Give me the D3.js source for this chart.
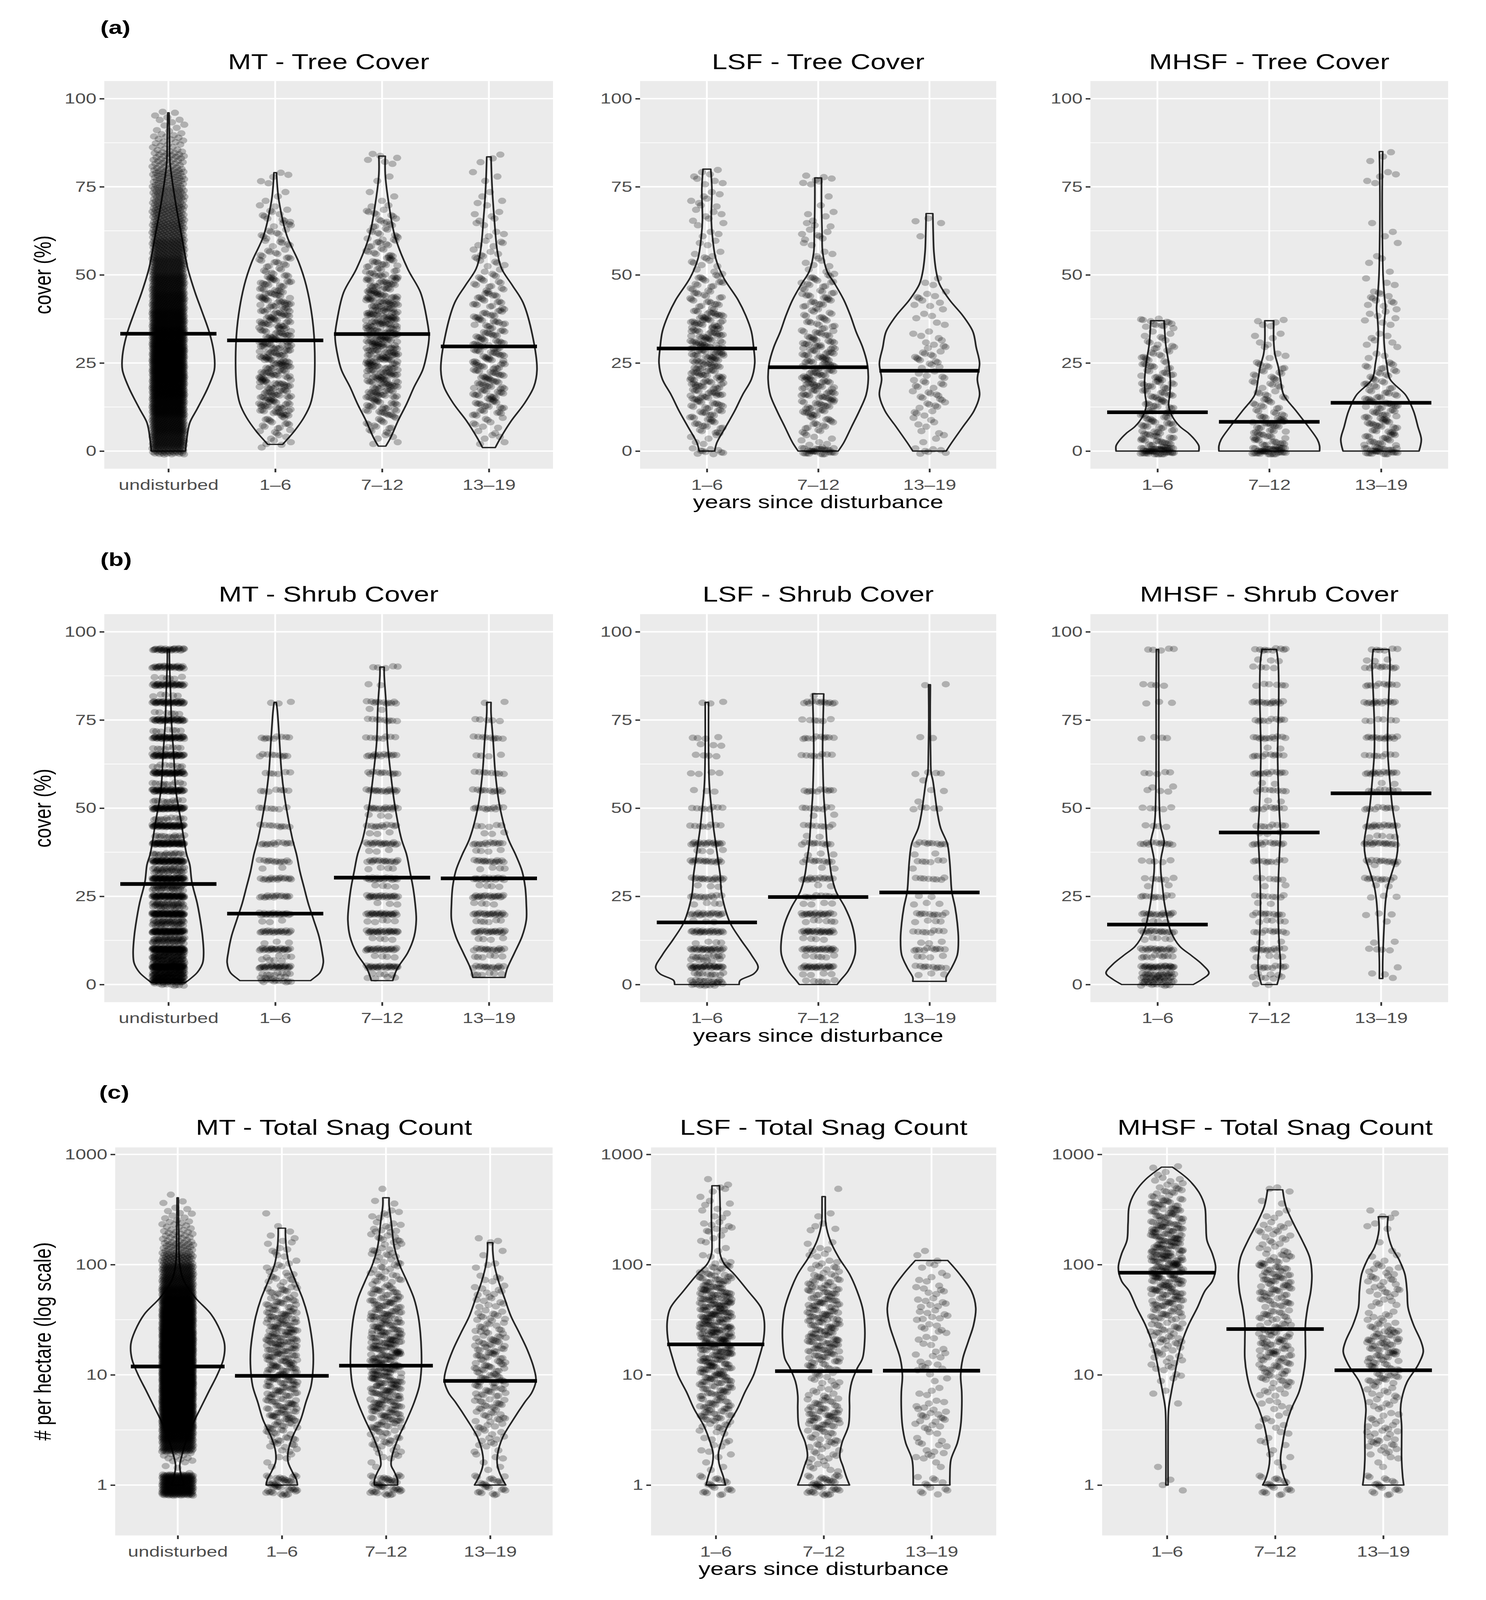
<!DOCTYPE html>
<html><head><meta charset="utf-8">
<script src="https://cdn.jsdelivr.net/npm/d3@7"></script>
<style>html,body{margin:0;padding:0;background:#fff;overflow:hidden}svg{display:block;width:100vw;height:100vh}</style>
</head><body><svg id="c" viewBox="0 0 3805 5303" preserveAspectRatio="none"></svg>
<script>
// ---------------- DATA ----------------
const catsMT = ["undisturbed","1–6","7–12","13–19"];
const catsDist = ["1–6","7–12","13–19"];
const ecosystems = ["MT","LSF","MHSF"];
const variables = ["Tree Cover","Shrub Cover","Total Snag Count"];
const rowLetters = ["(a)","(b)","(c)"];
const yTitles = ["cover (%)","cover (%)","# per hectare (log scale)"];
const xTitle = "years since disturbance";
const coverTicks = [0,25,50,75,100];
const coverMinor = [12.5,37.5,62.5,87.5];
const snagTicks = [1,10,100,1000];
const snagMinor = [3.1623,31.623,316.23];

const treeMeansMT = [33.3,31.4,33.2,29.7];
const treeMeansLSF = [29.1,23.8,22.8];
const treeMeansMHSF = [11.0,8.3,13.7];
const shrubMeansMT = [28.5,20.1,30.3,30.1];
const shrubMeansLSF = [17.6,24.8,26.1];
const shrubMeansMHSF = [17.0,43.1,54.2];
const snagMeansMT = [11.9,9.8,12.1,8.8];
const snagMeansLSF = [18.9,10.8,10.9];
const snagMeansMHSF = [84.4,26,11];

const violinTreeMT = [
 [[96,0.006],[90,0.01],[82,0.015],[78,0.03],[70,0.07],[60,0.13],[52,0.18],[45,0.25],[40,0.31],[33,0.39],[27,0.43],[23,0.43],[18,0.37],[12,0.27],[8,0.2],[3,0.17],[0,0.16]],
 [[79,0.012],[75,0.02],[70.8,0.036],[61,0.11],[53.6,0.22],[47,0.29],[37,0.35],[28,0.37],[18,0.36],[13.4,0.33],[9.6,0.27],[5.7,0.18],[2.9,0.1],[1.9,0.07]],
 [[83.7,0.03],[78.5,0.03],[70.8,0.06],[61,0.12],[51.7,0.24],[45,0.36],[37.3,0.42],[32.5,0.44],[27.8,0.42],[23,0.38],[18.2,0.3],[13.4,0.23],[8.6,0.15],[3.8,0.08],[1.4,0.035]],
 [[83.5,0.02],[75,0.03],[66,0.05],[56.5,0.08],[51.7,0.12],[47,0.22],[42.1,0.32],[32.5,0.41],[23,0.45],[18.2,0.42],[13.4,0.33],[8.6,0.21],[3.8,0.11],[1,0.06]]
];
const violinTreeLSF = [
 [[80,0.035],[74.4,0.045],[65.4,0.04],[60.9,0.05],[54.6,0.08],[49.2,0.15],[42.9,0.28],[38.4,0.35],[33.9,0.4],[29.4,0.42],[24.9,0.43],[20.4,0.4],[15.9,0.32],[11.4,0.25],[6.9,0.17],[2.4,0.09],[0,0.07]],
 [[77.5,0.03],[70,0.03],[62,0.035],[56.4,0.04],[51,0.08],[47.4,0.15],[42.9,0.23],[38.4,0.29],[33.9,0.34],[29.4,0.4],[24.9,0.44],[20.4,0.45],[15.9,0.43],[11.4,0.37],[6.9,0.3],[2.4,0.23],[0,0.18]],
 [[67.4,0.03],[60,0.035],[56.4,0.04],[51,0.06],[47.4,0.09],[42.9,0.18],[38.4,0.3],[33.9,0.39],[29.4,0.42],[24.9,0.45],[20.4,0.43],[15.9,0.45],[11.4,0.4],[6.9,0.3],[2.4,0.2],[0,0.15]]
];
const violinTreeMHSF = [
 [[37,0.06],[34,0.065],[30,0.075],[25,0.1],[20,0.115],[16,0.11],[13,0.1],[10,0.13],[7,0.2],[5,0.28],[3,0.34],[1.5,0.37],[0,0.37]],
 [[37,0.04],[31,0.04],[27.6,0.05],[24,0.08],[20.4,0.1],[15.9,0.13],[11.4,0.24],[6.9,0.35],[3.3,0.43],[1.5,0.45],[0,0.45]],
 [[85,0.015],[80,0.012],[70,0.01],[60,0.012],[50,0.018],[44,0.03],[40.5,0.04],[37,0.03],[33,0.025],[28,0.035],[24.9,0.05],[20.4,0.08],[15.9,0.22],[11.4,0.29],[6.9,0.33],[3.3,0.36],[0,0.34]]
];
const violinShrubMT = [
 [[95,0.01],[92,0.01],[83,0.02],[74,0.03],[65,0.05],[55,0.07],[46,0.12],[37,0.17],[34,0.2],[29,0.22],[23,0.27],[18,0.3],[13.6,0.32],[9,0.33],[6,0.32],[3.4,0.27],[1.5,0.2],[0.6,0.16]],
 [[80,0.01],[77.6,0.02],[69,0.04],[60,0.06],[50.7,0.1],[41.4,0.16],[36.8,0.2],[32.2,0.23],[27.5,0.27],[22.9,0.31],[18.3,0.36],[13.6,0.41],[9,0.44],[6.2,0.45],[3.4,0.42],[1.8,0.36],[1.1,0.33]],
 [[90,0.02],[87.8,0.02],[78.5,0.04],[69,0.05],[60,0.08],[50.7,0.12],[41.4,0.18],[36.8,0.23],[32.2,0.26],[27.5,0.29],[22.9,0.31],[18.3,0.32],[13.6,0.3],[9,0.24],[4.4,0.14],[1.1,0.1]],
 [[80,0.02],[77,0.02],[69,0.04],[60,0.06],[50.7,0.1],[41.4,0.18],[36.8,0.25],[32.2,0.31],[27.5,0.34],[22.9,0.35],[18.3,0.35],[13.6,0.31],[9,0.24],[4.4,0.17],[2,0.15]]
];
const violinShrubLSF = [
 [[80,0.015],[67,0.015],[58,0.02],[53.4,0.03],[48.9,0.045],[44.4,0.06],[39.9,0.08],[35.4,0.1],[30.9,0.12],[26.4,0.13],[21.9,0.16],[17.4,0.21],[12.9,0.3],[8.4,0.4],[4.8,0.46],[3,0.42],[1.2,0.3],[0,0.29]],
 [[82.4,0.05],[75.9,0.045],[66.9,0.04],[57.9,0.045],[53.4,0.05],[48.9,0.06],[44.4,0.07],[39.9,0.08],[35.4,0.1],[30.9,0.12],[26.4,0.16],[21.9,0.24],[17.4,0.3],[12.9,0.33],[8.4,0.33],[3.9,0.27],[1.2,0.2],[0,0.17]],
 [[85,0.008],[75,0.006],[65,0.01],[60,0.015],[57.9,0.03],[53.4,0.05],[48.9,0.07],[44.4,0.1],[39.9,0.16],[35.4,0.18],[30.9,0.19],[26.4,0.2],[21.9,0.23],[17.4,0.25],[12.9,0.26],[8.4,0.25],[4.8,0.2],[2,0.15],[0.9,0.15]]
];
const violinShrubMHSF = [
 [[95,0.01],[80,0.012],[60,0.012],[48,0.02],[44.7,0.03],[42.1,0.05],[40.4,0.06],[38.7,0.05],[35.3,0.03],[32,0.03],[27.7,0.045],[23.5,0.06],[19.3,0.085],[15,0.12],[10.8,0.2],[8.3,0.3],[5.7,0.4],[3.2,0.46],[1.5,0.4],[0,0.32]],
 [[95,0.065],[91.1,0.08],[82.7,0.085],[74.2,0.08],[65.8,0.075],[57.3,0.08],[48.9,0.09],[43,0.1],[36.2,0.09],[27.7,0.08],[19.3,0.08],[10.8,0.09],[6.6,0.1],[3.2,0.095],[0,0.07]],
 [[95,0.07],[91.1,0.08],[82.7,0.07],[74.2,0.06],[65.8,0.06],[57.3,0.08],[50.6,0.1],[44.7,0.13],[40.4,0.15],[36.2,0.14],[32,0.1],[27.7,0.06],[23.5,0.04],[15,0.025],[6.6,0.015],[1.7,0.015]]
];
const violinSnagMT = [
 [[404,0.006],[200,0.01],[100,0.02],[71,0.06],[50,0.17],[35.5,0.32],[25,0.41],[19,0.45],[14,0.44],[10,0.38],[7.1,0.3],[5,0.22],[3.5,0.14],[2.5,0.08],[1.86,0.04],[1.5,0.02],[1.26,0.03],[1,0.06]],
 [[214,0.035],[182,0.035],[135,0.045],[100,0.07],[71,0.13],[49,0.2],[34,0.25],[24,0.28],[16.6,0.3],[11.5,0.3],[7.9,0.28],[5.6,0.23],[3.9,0.18],[2.7,0.1],[2.0,0.06],[1.62,0.06],[1.32,0.1],[1.12,0.14],[1,0.15]],
 [[404,0.03],[347,0.03],[245,0.05],[145,0.08],[100,0.13],[71,0.2],[49,0.27],[34,0.31],[24,0.33],[16.6,0.34],[11.5,0.34],[7.9,0.32],[5.6,0.27],[3.9,0.2],[2.7,0.12],[1.86,0.06],[1.51,0.05],[1.32,0.08],[1.12,0.11],[1,0.11]],
 [[158,0.025],[135,0.025],[100,0.04],[71,0.08],[49,0.14],[34,0.2],[24,0.28],[16.6,0.36],[11.5,0.42],[8.9,0.44],[6.9,0.4],[5.6,0.33],[3.9,0.22],[2.7,0.12],[1.86,0.07],[1.51,0.07],[1.23,0.1],[1,0.15]]
];
const violinSnagLSF = [
 [[519,0.035],[336,0.04],[236,0.04],[166,0.035],[125,0.04],[101,0.08],[82,0.17],[57.5,0.3],[40.5,0.42],[30.5,0.45],[20,0.44],[14.1,0.4],[9.9,0.35],[6.95,0.27],[4.89,0.2],[3.44,0.11],[2.42,0.05],[1.95,0.025],[1.58,0.03],[1.19,0.07],[1,0.09]],
 [[414,0.015],[336,0.015],[236,0.02],[166,0.06],[116,0.14],[82,0.24],[57.5,0.31],[40.5,0.36],[28.4,0.38],[20,0.38],[14.1,0.36],[11.4,0.31],[8.6,0.26],[6.5,0.24],[4.89,0.24],[3.44,0.23],[2.42,0.17],[1.82,0.15],[1.47,0.18],[1.19,0.21],[1,0.24]],
 [[109,0.15],[82,0.26],[57.5,0.37],[40.5,0.41],[28.4,0.39],[20,0.34],[14.1,0.29],[9.9,0.27],[6.95,0.28],[4.89,0.28],[3.44,0.27],[2.42,0.24],[1.7,0.18],[1.19,0.17],[1,0.17]]
];
const violinSnagMHSF = [
 [[766,0.05],[589,0.2],[445,0.3],[336,0.35],[236,0.36],[166,0.37],[125,0.42],[94,0.45],[71,0.42],[57.5,0.35],[40.5,0.28],[28.4,0.2],[20,0.14],[14.1,0.1],[9.9,0.07],[6.95,0.04],[4.89,0.015],[2.42,0.01],[1,0.01]],
 [[477,0.07],[336,0.1],[236,0.17],[166,0.25],[116,0.32],[82,0.34],[57.5,0.33],[40.5,0.3],[28.4,0.28],[20,0.28],[14.1,0.28],[9.9,0.26],[6.95,0.22],[4.89,0.15],[3.44,0.1],[2.42,0.07],[1.7,0.05],[1.19,0.08],[1,0.115]],
 [[272,0.045],[205,0.04],[144,0.08],[109,0.15],[82,0.2],[57.5,0.22],[40.5,0.23],[28.4,0.28],[20,0.35],[16.2,0.37],[12.2,0.32],[8.6,0.22],[6.0,0.17],[4.89,0.16],[3.44,0.17],[2.42,0.17],[1.7,0.17],[1.19,0.18],[1,0.19]]
];

const treeBinEdges = [-1,1,5,10,15,20,25,30,35,40,45,50,55,60,65,70,75,80,85,90,95,97];
const treeCountsMT = [
 [40,110,160,200,230,250,250,230,200,170,150,120,100,80,70,60,50,35,20,10,3],
 [0,8,18,40,42,44,44,42,40,36,30,18,13,13,12,3,5,0,0,0,0],
 [0,5,16,32,46,52,55,57,57,50,40,26,18,16,13,3,2,6,0,0,0],
 [0,5,10,26,32,34,32,29,26,21,16,10,10,5,6,4,3,3,0,0,0]
];
const treeCountsLSF = [
 [10,5,22,28,38,40,45,42,38,20,18,10,6,5,8,6,8,0,0,0,0],
 [30,8,18,32,38,38,35,28,18,22,18,8,5,10,5,1,7,0,0,0,0],
 [7,3,7,12,14,10,14,7,5,9,4,0,0,2,2,0,0,0,0,0,0]
];
const treeCountsMHSF = [
 [48,28,28,24,26,22,17,10,12,0,0,0,0,0,0,0,0,0,0,0,0],
 [40,24,30,17,14,16,5,5,5,0,0,0,0,0,0,0,0,0,0,0,0],
 [28,21,30,28,19,16,5,6,7,11,4,3,2,3,0,0,5,3,0,0,0]
];
const shrubPtsMT = [
 [[95,30],[90,30],[87,6],[85,35],[82,5],[80,40],[77,6],[75,40],[72,7],[70,45],[67,8],[65,45],[62,9],[60,50],[57,10],[55,50],[52,11],[50,55],[47,12],[45,55],[42,14],[40,60],[37,16],[35,60],[33,16],[32,18],[30,70],[28,20],[27,16],[25,70],[23,22],[22,18],[20,80],[18,24],[17,20],[15,80],[13,26],[12,22],[10,90],[9,24],[8,30],[7,30],[6,26],[5,90],[4,30],[3,40],[2,40],[1,50],[0,10]],
 [[80,3],[70,9],[65,9],[60,6],[55,7],[50,7],[45,9],[40,12],[35,12],[33,2],[30,16],[25,16],[20,21],[18,3],[15,21],[12,3],[10,23],[8,4],[7,4],[5,28],[3,8],[2,6],[1,11]],
 [[90,5],[85,2],[80,11],[78,2],[75,9],[70,8],[65,14],[60,11],[55,16],[50,16],[48,3],[45,11],[43,3],[40,18],[38,3],[35,16],[33,4],[30,20],[28,4],[25,22],[23,3],[20,25],[18,5],[15,25],[13,4],[10,22],[8,4],[5,25],[3,4],[2,4]],
 [[80,2],[75,5],[70,9],[65,4],[60,8],[55,11],[50,11],[45,5],[43,3],[40,13],[38,4],[35,15],[33,4],[30,18],[28,4],[25,20],[23,4],[20,20],[18,6],[15,20],[13,4],[10,15],[8,6],[5,15],[3,6]]
];
const shrubPtsLSF = [
 [[80,3],[70,4],[68,3],[65,4],[60,4],[55,3],[50,8],[45,8],[40,18],[38,4],[35,16],[30,16],[28,3],[25,12],[23,4],[20,18],[18,3],[15,22],[12,4],[10,24],[8,10],[7,6],[5,30],[3,10],[1,14],[0,12]],
 [[82,1],[80,12],[75,6],[70,10],[65,8],[55,10],[50,8],[48,2],[45,8],[42,2],[40,10],[37,3],[35,10],[33,2],[30,14],[28,2],[25,8],[23,4],[20,20],[18,6],[15,24],[13,4],[10,22],[8,6],[5,24],[3,4],[1,6]],
 [[85,2],[70,2],[60,4],[58,1],[55,2],[52,1],[50,5],[40,10],[37,2],[35,6],[33,1],[30,8],[25,2],[23,3],[20,10],[18,4],[15,8],[12,3],[10,10],[8,4],[5,10],[3,3]]
];
const shrubPtsMHSF = [
 [[95,5],[85,4],[80,3],[70,4],[60,5],[56,2],[55,3],[50,5],[45,4],[40,12],[35,5],[30,6],[28,2],[25,10],[20,16],[18,4],[15,16],[13,5],[10,18],[8,10],[5,28],[3,16],[2,14],[1,14],[0,10]],
 [[95,10],[92,3],[90,4],[85,6],[80,14],[75,10],[70,12],[67,2],[65,10],[60,12],[57,2],[55,8],[52,2],[50,10],[45,8],[43,3],[40,12],[35,10],[30,6],[28,2],[25,8],[23,2],[20,10],[18,5],[15,10],[12,2],[10,12],[8,4],[5,10],[3,3],[2,5],[0,2]],
 [[95,6],[92,3],[90,10],[85,10],[80,14],[75,6],[70,14],[65,8],[60,14],[57,2],[55,8],[50,10],[45,14],[42,5],[40,16],[35,12],[34,2],[30,10],[28,2],[25,3],[20,3],[18,1],[12,2],[10,4],[5,1],[3,2],[2,1]]
];
const snagBinEdges = [0.8,1.25,1.6,2,2.5,3.2,4,5,6.3,8,10,12.6,16,20,25,32,40,50,63,80,100,126,160,200,250,320,400,500,630,800];
const snagCountsMT = [
 [250,3,12,100,150,180,200,220,240,250,250,250,240,230,210,190,160,130,100,80,50,30,18,12,8,3,1,0,0],
 [45,1,4,10,14,18,22,22,24,26,26,28,28,28,28,24,18,14,10,7,4,6,4,1,1,0,0,0,0],
 [45,1,6,10,12,20,24,28,30,32,34,34,32,30,28,26,22,18,12,10,10,10,10,8,6,2,1,0,0],
 [25,2,4,6,8,10,12,14,16,18,18,18,16,14,12,10,8,8,6,2,2,2,2,0,0,0,0,0,0]
];
const snagCountsLSF = [
 [20,2,3,5,6,12,20,20,22,26,30,32,34,36,38,38,36,32,24,14,5,3,4,8,4,4,3,3,0],
 [40,6,8,10,12,20,22,16,8,8,14,20,24,24,24,24,22,20,16,10,6,5,0,4,2,0,1,0,0],
 [12,1,6,6,4,8,10,5,4,2,6,6,4,5,6,8,8,6,5,3,3,1,0,0,0,0,0,0,0]
];
const snagCountsMHSF = [
 [3,1,0,0,0,0,0,1,2,3,6,8,10,12,14,18,22,26,30,34,36,32,30,28,24,20,12,8,4],
 [20,1,3,3,4,5,4,5,8,12,16,18,18,16,14,14,14,18,20,18,14,8,8,8,4,2,2,1,0],
 [18,1,5,10,10,8,5,8,8,14,14,18,18,18,12,6,6,10,10,8,4,2,0,3,4,0,0,0,0]
];

// ---------------- LAYOUT ----------------
const W = 3805, H = 5303;
const FONT = "'Liberation Sans', Arial, Helvetica, sans-serif";
const colsAB = [[267,1416],[1639,2551],[2792,3708]];
const colsC = [[295,1415],[1667,2551],[2822,3708]];
const rowsY = [[268.6,1553.4],[2035.5,3321.5],[3803,5089]];
const titleBase = [229,1994,3761];
const letterBase = [112,1876,3642];

const svg = d3.select("#c");
svg.append("rect").attr("width",W).attr("height",H).attr("fill","#ffffff");

const means = [[treeMeansMT,treeMeansLSF,treeMeansMHSF],[shrubMeansMT,shrubMeansLSF,shrubMeansMHSF],[snagMeansMT,snagMeansLSF,snagMeansMHSF]];
const violins = [[violinTreeMT,violinTreeLSF,violinTreeMHSF],[violinShrubMT,violinShrubLSF,violinShrubMHSF],[violinSnagMT,violinSnagLSF,violinSnagMHSF]];
const pointSrc = [[treeCountsMT,treeCountsLSF,treeCountsMHSF],[shrubPtsMT,shrubPtsLSF,shrubPtsMHSF],[snagCountsMT,snagCountsLSF,snagCountsMHSF]];

const frac = v => v - Math.floor(v);
function vdc(n, b){ let v=0, d=1; while(n>0){ d*=b; v+=(n%b)/d; n=Math.floor(n/b);} return v; }

// spread inside a bin: very dense groups evenly (solid columns), others scattered
function spread(j, n, i, dense){
  return dense ? (j + vdc(j+1,3))/n : frac(vdc(j+1,2) + 0.13*i);
}

function groupPoints(r, src, top){
  const pts = []; let k = 0;
  const push = (v) => { pts.push({v, jx: frac(k*0.6180339887 + 0.37)*2 - 1}); k++; };
  if (r === 0){
    const dense = d3.max(src) > 100;
    src.forEach((n,i)=>{
      const lo = treeBinEdges[i]; let hi = Math.min(treeBinEdges[i+1], top + 0.8);
      for (let j=0;j<n;j++){ push(lo+(hi-lo)*spread(j,n,i,dense)); }
    });
  } else if (r === 1){
    src.forEach(([val,n])=>{
      for (let j=0;j<n;j++){ const t=vdc(j+1,3); push(val+(t-0.5)*0.8); }
    });
  } else {
    const dense = d3.max(src) > 100;
    src.forEach((n,i)=>{
      const lo=Math.log10(snagBinEdges[i]), hi=Math.log10(snagBinEdges[i+1]);
      for (let j=0;j<n;j++){ push(Math.pow(10, lo+(hi-lo)*spread(j,n,i,dense))); }
    });
  }
  return pts;
}

for (let r=0;r<3;r++){
  svg.append("text").attr("x", r===2?254:257).attr("y", letterBase[r])
    .attr("font-family",FONT).attr("font-weight","bold").attr("font-size",63).attr("fill","#000").text(rowLetters[r]);
  for (let c=0;c<3;c++){
    const cats = c===0 ? catsMT : catsDist;
    const xr = (r<2?colsAB:colsC)[c], yr = rowsY[r];
    const x = d3.scalePoint().domain(cats).range(xr).padding(0.6);
    const step = x.step();
    const isLog = r===2;
    const y = isLog ? d3.scaleLog().domain([Math.pow(10,-0.457), Math.pow(10,3.063)]).range([yr[1],yr[0]])
                    : d3.scaleLinear().domain([-5,105]).range([yr[1],yr[0]]);
    const g = svg.append("g");
    g.append("rect").attr("x",xr[0]).attr("y",yr[0]).attr("width",xr[1]-xr[0]).attr("height",yr[1]-yr[0]).attr("fill","#EBEBEB");
    const minor = isLog?snagMinor:coverMinor, major = isLog?snagTicks:coverTicks;
    g.selectAll(null).data(minor).join("line").attr("x1",xr[0]).attr("x2",xr[1])
      .attr("y1",d=>y(d)).attr("y2",d=>y(d)).attr("stroke","#fff").attr("stroke-width",2.3);
    g.selectAll(null).data(major).join("line").attr("x1",xr[0]).attr("x2",xr[1])
      .attr("y1",d=>y(d)).attr("y2",d=>y(d)).attr("stroke","#fff").attr("stroke-width",4.6);
    g.selectAll(null).data(cats).join("line").attr("y1",yr[0]).attr("y2",yr[1])
      .attr("x1",d=>x(d)).attr("x2",d=>x(d)).attr("stroke","#fff").attr("stroke-width",4.6);

    const ya = g.append("g").attr("transform",`translate(${xr[0]},0)`)
      .call(d3.axisLeft(y).tickValues(major).tickFormat(d3.format("d")).tickSize(12).tickPadding(8));
    const xa = g.append("g").attr("transform",`translate(0,${yr[1]})`)
      .call(d3.axisBottom(x).tickSize(12).tickPadding(23));
    [ya,xa].forEach(a=>{
      a.select(".domain").remove();
      a.attr("font-family",null).attr("font-size",null);
      a.selectAll(".tick line").attr("stroke","#333").attr("stroke-width",4.6);
      a.selectAll(".tick text").attr("fill","#4D4D4D").attr("font-size",49).attr("font-family",FONT);
    });

    const vset = violins[r][c];
    cats.forEach((cat,i)=>{
      const cx = x(cat);
      const area = d3.area().y(d=>y(d[0])).x0(d=>cx-d[1]*step).x1(d=>cx+d[1]*step)
        .curve(d3.curveCatmullRom.alpha(0.5));
      g.append("path").attr("d",area(vset[i])).attr("fill","none").attr("stroke","#262626")
        .attr("stroke-width",4.4).attr("stroke-linejoin","round");
    });
    cats.forEach((cat,i)=>{
      const cx = x(cat);
      const top = vset[i][0][0];
      const pts = groupPoints(r, pointSrc[r][c][i], top);
      g.append("g").selectAll("circle").data(pts).join("circle")
        .attr("cx",d=>cx + d.jx*0.15*step).attr("cy",d=>y(d.v)).attr("r",10.5)
        .attr("fill","#000").attr("fill-opacity",0.25);
    });
    const mset = means[r][c];
    g.selectAll(null).data(cats).join("line")
      .attr("x1",d=>x(d)-0.45*step).attr("x2",d=>x(d)+0.45*step)
      .attr("y1",(d,i)=>y(mset[i])).attr("y2",(d,i)=>y(mset[i]))
      .attr("stroke","#000").attr("stroke-width",12);

    svg.append("text").attr("x",(xr[0]+xr[1])/2).attr("y",titleBase[r]).attr("text-anchor","middle")
      .attr("font-family",FONT).attr("font-size",71).attr("fill","#000")
      .text(`${ecosystems[c]} - ${variables[r]}`);
    if (c===0){
      svg.append("text").attr("transform",`translate(130,${(yr[0]+yr[1])/2}) rotate(-90)`)
        .attr("text-anchor","middle").attr("font-family",FONT).attr("font-size",61).attr("fill","#000")
        .text(yTitles[r]);
    }
    if (c===1){
      svg.append("text").attr("x",(xr[0]+xr[1])/2).attr("y",yr[1]+131).attr("text-anchor","middle")
        .attr("font-family",FONT).attr("font-size",61).attr("fill","#000").text(xTitle);
    }
  }
}
</script></body></html>
